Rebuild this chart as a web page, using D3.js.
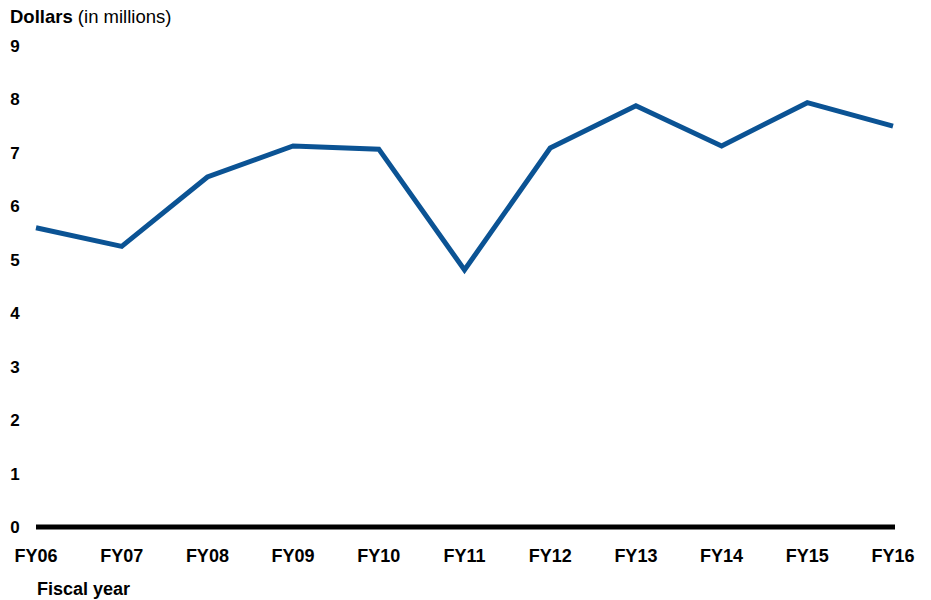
<!DOCTYPE html>
<html><head><meta charset="utf-8">
<script src="https://cdn.jsdelivr.net/npm/d3@7"></script>
<style>body{margin:0;background:#fff}svg{font-family:"Liberation Sans",Arial,sans-serif}</style>
</head><body>
<svg id="c" width="931" height="600"></svg>
<script>
const years = ["FY06","FY07","FY08","FY09","FY10","FY11","FY12","FY13","FY14","FY15","FY16"];
const values = [5.6, 5.25, 6.55, 7.13, 7.07, 4.81, 7.09, 7.88, 7.13, 7.94, 7.5];
const yTicks = [0,1,2,3,4,5,6,7,8,9];

const svg = d3.select("#c");
const x = d3.scalePoint().domain(years).range([36, 893]);
const y = d3.scaleLinear().domain([0, 9]).range([527, 46]);

// y tick labels
svg.append("g").selectAll("text").data(yTicks).join("text")
  .attr("x", 15).attr("y", d => y(d)).attr("dy", "0.35em")
  .attr("text-anchor", "middle").attr("font-size", 17).attr("font-weight", "bold")
  .text(d => d);

// x labels
svg.append("g").selectAll("text").data(years).join("text")
  .attr("x", d => x(d)).attr("y", 556).attr("dy", "0.35em")
  .attr("text-anchor", "middle").attr("font-size", 18).attr("font-weight", "bold")
  .text(d => d);

// baseline
svg.append("line").attr("x1", 36).attr("x2", 895).attr("y1", y(0)).attr("y2", y(0))
  .attr("stroke", "#000").attr("stroke-width", 5);

// line
svg.append("path").datum(values.map((v,i)=>[years[i], v]))
  .attr("fill", "none").attr("stroke", "#0b5394").attr("stroke-width", 5)
  .attr("stroke-linejoin", "miter")
  .attr("d", d3.line().x(d => x(d[0])).y(d => y(d[1])));

// titles
const t = svg.append("text").attr("x", 10).attr("y", 23).attr("font-size", 18.5);
t.append("tspan").attr("font-weight", "bold").text("Dollars");
t.append("tspan").text(" (in millions)");
svg.append("text").attr("x", 37).attr("y", 595).attr("font-size", 18).attr("font-weight", "bold").text("Fiscal year");
</script>
</body></html>
